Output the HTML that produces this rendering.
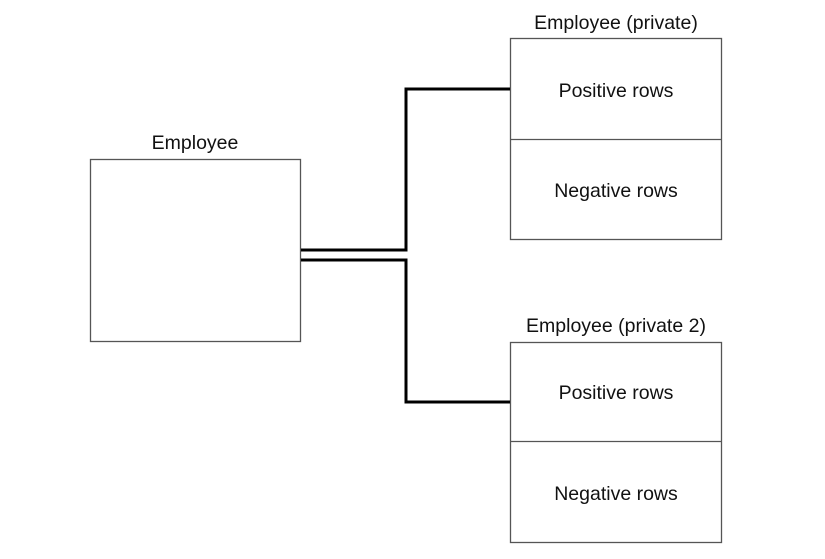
<!DOCTYPE html>
<html><head><style>
body{margin:0;background:#fff;}
svg text{font-family:"Liberation Sans",sans-serif;font-size:19.5px;fill:#111;}
</style></head><body>
<svg width="825" height="554" xmlns="http://www.w3.org/2000/svg">
<rect x="0" y="0" width="825" height="554" fill="#fff"/>
<g fill="none" stroke="#555" stroke-width="1.3">
<rect x="90.5" y="159.5" width="210" height="182"/>
<rect x="510.5" y="38.5" width="211" height="201"/>
<line x1="510" y1="139.5" x2="721" y2="139.5"/>
<rect x="510.5" y="342.5" width="211" height="200"/>
<line x1="510" y1="441.5" x2="721" y2="441.5"/>
</g>
<g fill="none" stroke="#000" stroke-width="3">
<polyline points="301,250 406,250 406,89 510,89"/>
<polyline points="301,260 406,260 406,402 510,402"/>
</g>
<text x="195" y="149" text-anchor="middle">Employee</text>
<text x="616" y="29" text-anchor="middle">Employee (private)</text>
<text x="616" y="97" text-anchor="middle">Positive rows</text>
<text x="616" y="197" text-anchor="middle">Negative rows</text>
<text x="616" y="332" text-anchor="middle">Employee (private 2)</text>
<text x="616" y="399" text-anchor="middle">Positive rows</text>
<text x="616" y="500" text-anchor="middle">Negative rows</text>
</svg>
</body></html>
